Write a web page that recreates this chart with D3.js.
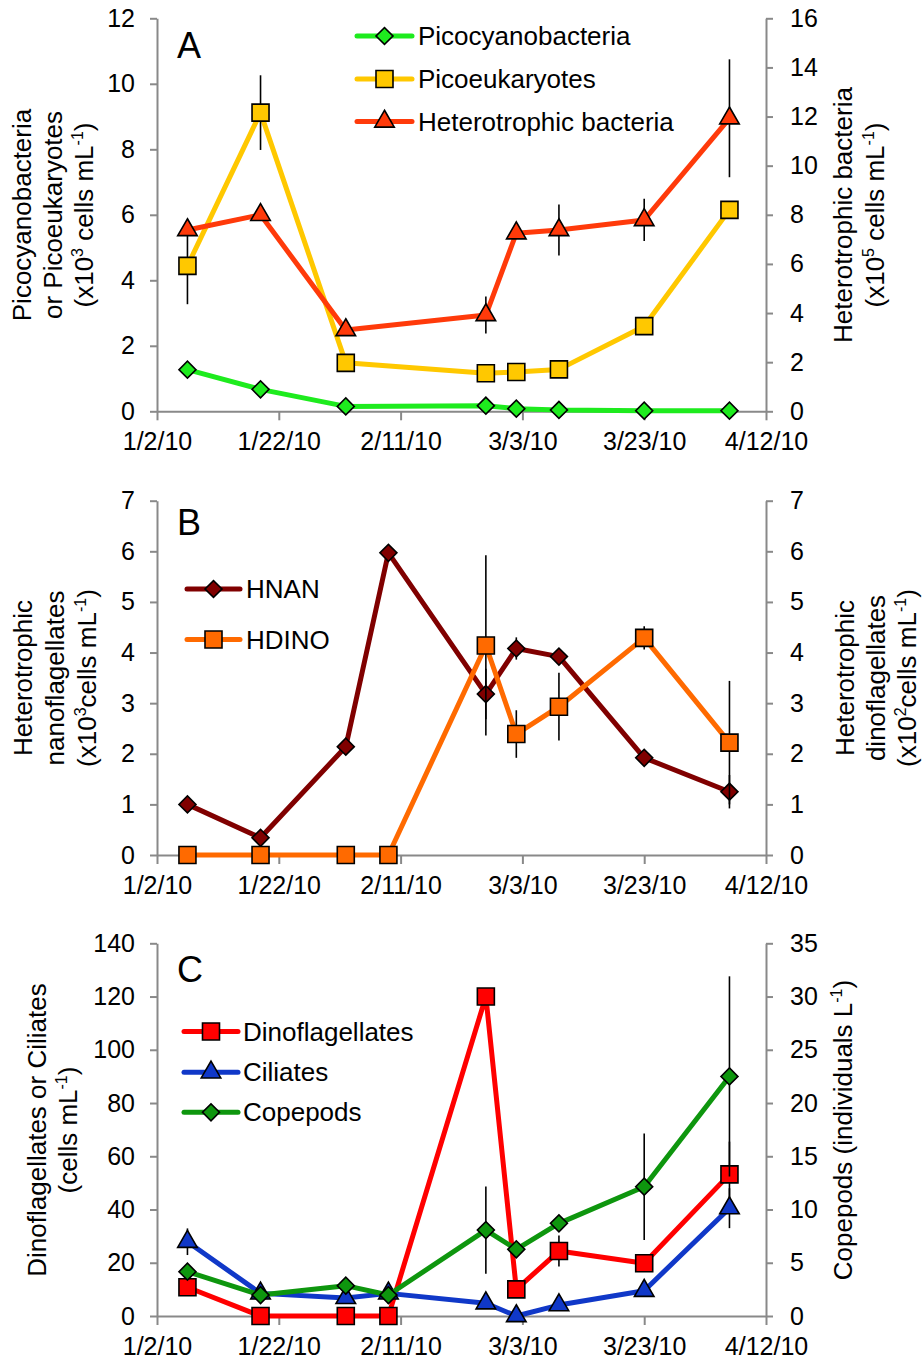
<!DOCTYPE html>
<meta charset="utf-8" />
<html>
<head>
<title>plankton time series</title>
<script src="https://cdn.jsdelivr.net/npm/d3@7"></script>
<style>
  body { margin: 0; background: #fff; }
  svg { font-family: "Liberation Sans", Arial, sans-serif; }
</style>
</head>
<body>
<div id="viz"></div>
<script>

// sampling dates
var datesA = ["2010-01-07","2010-01-19","2010-02-02","2010-02-25","2010-03-02","2010-03-09","2010-03-23","2010-04-06"];
var datesBC = ["2010-01-07","2010-01-19","2010-02-02","2010-02-09","2010-02-25","2010-03-02","2010-03-09","2010-03-23","2010-04-06"];
var xTickDates = ["2010-01-02","2010-01-22","2010-02-11","2010-03-03","2010-03-23","2010-04-12"];

// panel A
var picocyano = [1.27, 0.67, 0.15, 0.17, 0.08, 0.04, 0.02, 0.02];
var picocyanoErr = [0, 0, 0, 0, 0, 0, 0, 0];
var picoeuk = [4.44, 9.12, 1.48, 1.16, 1.20, 1.28, 2.60, 6.15];
var picoeukErr = [1.17, 1.14, 0, 0, 0, 0, 0.25, 0];
var hbact = [7.38, 8.0, 3.31, 3.92, 7.25, 7.38, 7.79, 11.93];
var hbactErr = [0, 0, 0, 0.75, 0, 1.04, 0.86, 2.4];

// panel B
var hnan = [1.0, 0.34, 2.14, 5.97, 3.18, 4.08, 3.92, 1.92, 1.25];
var hnanErr = [0, 0, 0, 0, 0.5, 0.22, 0, 0, 0.33];
var hdino = [0, 0, 0, 0, 4.14, 2.39, 2.93, 4.29, 2.22];
var hdinoErr = [0, 0, 0, 0, 1.78, 0.47, 0.67, 0.23, 1.22];

// panel C
var dinos = [10.8, 0, 0, 0, 120, 10.0, 24.4, 19.8, 53.2];
var dinosErr = [0, 0, 0, 0, 0, 0, 5.8, 2, 12.3];
var ciliates = [27.9, 8.5, 6.8, 8.5, 4.8, 0, 4.1, 9.5, 40.5];
var ciliatesErr = [5, 0, 0, 4, 0, 0, 0, 0, 7.5];
var copepods = [4.16, 1.97, 2.85, 1.97, 8.07, 6.26, 8.7, 12.14, 22.5];
var copepodsErr = [0, 0, 0, 0, 4.1, 0, 0.4, 5, 9.4];

var width = 923, height = 1362;
var parse = d3.timeParse("%Y-%m-%d");
var fmt = d3.timeFormat("%-m/%-d/%y");
var axisColor = "#898989";

var svg = d3.select("#viz").append("svg")
    .attr("width", width)
    .attr("height", height);
svg.append("rect").attr("width", width).attr("height", height).attr("fill", "#fff");

var x = d3.scaleTime()
    .domain([parse(xTickDates[0]), parse(xTickDates[xTickDates.length - 1])])
    .range([157, 766]);

var panels = [
  { letter: "A", top: 18.3, bottom: 411.3, leftMax: 12, leftStep: 2, rightMax: 16, rightStep: 2,
    letterY: 58,
    leftTitle: [["Picocyanobacteria"], ["or Picoeukaryotes"], ["(x10", "3", " cells mL", "-1", ")"]],
    leftTitleX: [22, 53, 84], leftTitleY: 215,
    rightTitle: [["Heterotrophic bacteria"], ["(x10", "5", " cells mL", "-1", ")"]],
    rightTitleX: [843, 875], rightTitleY: 215,
    legend: { lineX: [357, 412], textX: 418, ys: [36, 79, 121.5] },
    series: [
      { name: "Picocyanobacteria", dates: datesA, values: picocyano, err: picocyanoErr, axis: "left", color: "#1EEB1E", marker: "diamond" },
      { name: "Picoeukaryotes", dates: datesA, values: picoeuk, err: picoeukErr, axis: "left", color: "#FFC800", marker: "square" },
      { name: "Heterotrophic bacteria", dates: datesA, values: hbact, err: hbactErr, axis: "right", color: "#FF3A0A", marker: "triangle" }
    ] },
  { letter: "B", top: 500.7, bottom: 855, leftMax: 7, leftStep: 1, rightMax: 7, rightStep: 1,
    letterY: 535,
    leftTitle: [["Heterotrophic"], ["nanoflagellates"], ["(x10", "3", "cells mL", "-1", ")"]],
    leftTitleX: [23, 55, 87], leftTitleY: 678,
    rightTitle: [["Heterotrophic"], ["dinoflagellates"], ["(x10", "2", "cells mL", "-1", ")"]],
    rightTitleX: [845, 876, 907], rightTitleY: 678,
    legend: { lineX: [187, 240], textX: 246, ys: [589, 639.5] },
    series: [
      { name: "HNAN", dates: datesBC, values: hnan, err: hnanErr, axis: "left", color: "#800000", marker: "diamond" },
      { name: "HDINO", dates: datesBC, values: hdino, err: hdinoErr, axis: "right", color: "#FF6A00", marker: "square" }
    ] },
  { letter: "C", top: 943.3, bottom: 1316, leftMax: 140, leftStep: 20, rightMax: 35, rightStep: 5,
    letterY: 982,
    leftTitle: [["Dinoflagellates or Ciliates"], ["(cells mL", "-1", ")"]],
    leftTitleX: [37, 68], leftTitleY: 1130,
    rightTitle: [["Copepods (individuals L", "-1", ")"]],
    rightTitleX: [843], rightTitleY: 1130,
    legend: { lineX: [184, 238], textX: 243, ys: [1031.5, 1072.3, 1112.3] },
    series: [
      { name: "Dinoflagellates", dates: datesBC, values: dinos, err: dinosErr, axis: "left", color: "#FF0000", marker: "square" },
      { name: "Ciliates", dates: datesBC, values: ciliates, err: ciliatesErr, axis: "left", color: "#1038C8", marker: "triangle" },
      { name: "Copepods", dates: datesBC, values: copepods, err: copepodsErr, axis: "right", color: "#0E960E", marker: "diamond" }
    ] }
];

// marker shapes
function markerPath(kind) {
  if (kind == "square") return d3.symbol().type(d3.symbolSquare).size(17 * 17)();
  if (kind == "diamond") return d3.symbol().type(d3.symbolSquare).size(12 * 12)();
  return d3.symbol().type(d3.symbolTriangle).size(165)();
}
function markerRotate(kind) { return kind == "diamond" ? " rotate(45)" : ""; }

// multi-part text with superscripts (parts at odd index are superscripts)
function addTitle(g, parts, cx, cy) {
  var t = g.append("text")
    .attr("transform", "translate(" + cx + "," + cy + ") rotate(-90)")
    .attr("text-anchor", "middle")
    .attr("dy", "0.35em")
    .attr("font-size", 26);
  parts.forEach(function(p, i) {
    var ts = t.append("tspan").text(p);
    if (i % 2 == 1) ts.attr("font-size", 16).attr("dy", -10);
    else if (i > 0) ts.attr("dy", 10);
  });
}

function styleAxis(ag) {
  ag.attr("font-size", null).attr("font-family", null);
  ag.select(".domain").attr("stroke", axisColor).attr("stroke-width", 2);
  ag.selectAll(".tick line").attr("stroke", axisColor).attr("stroke-width", 2);
  ag.selectAll(".tick text").attr("fill", "#000").attr("font-size", 25);
}

panels.forEach(function(p) {
  var g = svg.append("g");
  var yL = d3.scaleLinear().domain([0, p.leftMax]).range([p.bottom, p.top]);
  var yR = d3.scaleLinear().domain([0, p.rightMax]).range([p.bottom, p.top]);

  // axes
  var ax = g.append("g").attr("transform", "translate(0," + p.bottom + ")")
    .call(d3.axisBottom(x).tickValues(xTickDates.map(parse)).tickFormat(fmt)
      .tickSize(9).tickPadding(12).tickSizeOuter(0));
  styleAxis(ax);

  var al = g.append("g").attr("transform", "translate(" + x.range()[0] + ",0)")
    .call(d3.axisLeft(yL).tickValues(d3.range(0, p.leftMax + 0.001, p.leftStep))
      .tickFormat(d3.format("d")).tickSize(7).tickPadding(15).tickSizeOuter(0));
  styleAxis(al);

  var ar = g.append("g").attr("transform", "translate(" + x.range()[1] + ",0)")
    .call(d3.axisRight(yR).tickValues(d3.range(0, p.rightMax + 0.001, p.rightStep))
      .tickFormat(d3.format("d")).tickSize(7).tickPadding(17).tickSizeOuter(0));
  styleAxis(ar);

  // panel letter
  g.append("text").attr("x", 177).attr("y", p.letterY).attr("font-size", 36).text(p.letter);

  // axis titles
  p.leftTitle.forEach(function(parts, i) { addTitle(g, parts, p.leftTitleX[i], p.leftTitleY); });
  p.rightTitle.forEach(function(parts, i) { addTitle(g, parts, p.rightTitleX[i], p.rightTitleY); });

  // series
  p.series.forEach(function(s) {
    var y = s.axis == "left" ? yL : yR;
    var pts = s.dates.map(function(d, i) { return { date: parse(d), v: s.values[i], e: s.err[i] }; });
    var sg = g.append("g");

    sg.append("path").datum(pts)
      .attr("fill", "none")
      .attr("stroke", s.color)
      .attr("stroke-width", 5)
      .attr("stroke-linejoin", "round")
      .attr("d", d3.line().x(function(d) { return x(d.date); }).y(function(d) { return y(d.v); }));

    sg.selectAll("line.err").data(pts.filter(function(d) { return d.e > 0; }))
      .enter().append("line")
      .attr("class", "err")
      .attr("x1", function(d) { return x(d.date); })
      .attr("x2", function(d) { return x(d.date); })
      .attr("y1", function(d) { return y(d.v - d.e); })
      .attr("y2", function(d) { return y(d.v + d.e); })
      .attr("stroke", "#000")
      .attr("stroke-width", 1.6);

    sg.selectAll("path.mk").data(pts)
      .enter().append("path")
      .attr("class", "mk")
      .attr("d", markerPath(s.marker))
      .attr("transform", function(d) { return "translate(" + x(d.date) + "," + y(d.v) + ")" + markerRotate(s.marker); })
      .attr("fill", s.color)
      .attr("stroke", "#000")
      .attr("stroke-width", 1.6);
  });

  // legend
  var lg = g.append("g");
  p.series.forEach(function(s, i) {
    var ly = p.legend.ys[i];
    var lx = p.legend.lineX;
    lg.append("line")
      .attr("x1", lx[0]).attr("x2", lx[1]).attr("y1", ly).attr("y2", ly)
      .attr("stroke", s.color).attr("stroke-width", 5).attr("stroke-linecap", "round");
    lg.append("path")
      .attr("d", markerPath(s.marker))
      .attr("transform", "translate(" + (lx[0] + lx[1]) / 2 + "," + ly + ")" + markerRotate(s.marker))
      .attr("fill", s.color).attr("stroke", "#000").attr("stroke-width", 1.6);
    lg.append("text")
      .attr("x", p.legend.textX).attr("y", ly).attr("dy", "0.35em")
      .attr("font-size", 26).text(s.name);
  });
});

</script>
</body>
</html>
